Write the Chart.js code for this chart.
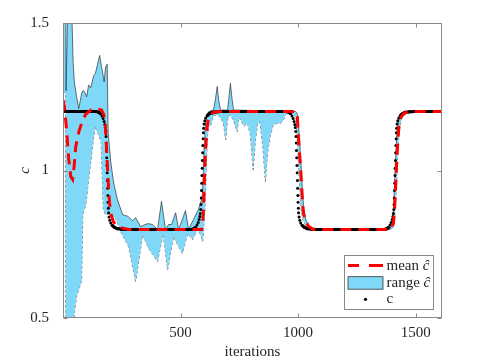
<!DOCTYPE html>
<html><head><meta charset="utf-8">
<script src="https://cdn.jsdelivr.net/npm/chart.js@4/dist/chart.umd.min.js"></script>
<style>html,body{margin:0;padding:0;background:#fff;}canvas{display:block}</style>
</head><body>
<canvas id="chart" width="479" height="361"></canvas>
<script>
// ---- data ----
const cIter = [0,143,153,160,166,171,175,178,180,182,183,184,185,186,187,188,189,190,191,192,193,194,196,199,203,209,218,230,248,268,
  547,557,564,570,575,579,582,584,586,587,588,589,590,591,592,593,594,595,596,597,598,600,603,607,613,622,634,652,672,
  951,961,968,974,979,983,986,988,990,991,992,993,994,995,996,997,998,999,1000,1001,1002,1004,1007,1011,1017,1026,1038,1056,1076,
  1368,1378,1385,1391,1396,1400,1403,1405,1407,1408,1409,1410,1411,1412,1413,1414,1415,1416,1417,1418,1419,1421,1424,1428,1434,1443,1455,1473,1493,1612];
const cVal = [1.2,1.2,1.197,1.192,1.185,1.176,1.166,1.156,1.146,1.132,1.115,1.093,1.068,1.043,1.017,0.992,0.966,0.940,0.915,0.892,0.872,0.857,0.842,0.831,0.822,0.814,0.808,0.803,0.801,0.800,
  0.800,0.803,0.808,0.815,0.824,0.834,0.844,0.854,0.868,0.885,0.907,0.932,0.957,0.983,1.008,1.034,1.060,1.085,1.108,1.128,1.143,1.158,1.169,1.178,1.186,1.192,1.197,1.199,1.200,
  1.200,1.197,1.192,1.185,1.176,1.166,1.156,1.146,1.132,1.115,1.093,1.068,1.043,1.017,0.992,0.966,0.940,0.915,0.892,0.872,0.857,0.842,0.831,0.822,0.814,0.808,0.803,0.801,0.800,
  0.800,0.803,0.808,0.815,0.824,0.834,0.844,0.854,0.868,0.885,0.907,0.932,0.957,0.983,1.008,1.034,1.060,1.085,1.108,1.128,1.143,1.158,1.169,1.178,1.186,1.192,1.197,1.199,1.200,1.200];

const meanIter = [0,7,16,24,33,41,48,54,67,79,96,118,143,164,173,177,181,186,190,194,198,205,215,237,279,585,590,594,597,600,
  603,607,611,616,624,640,660,990,996,1001,1006,1012,1017,1022,1030,1045,1065,1395,1405,1410,1414,1418,1422,1426,1430,1437,1450,1480,1612];
const meanVal = [1.24,1.21,1.13,1.04,0.98,0.97,1.02,1.08,1.13,1.16,1.19,1.205,1.21,1.205,1.19,1.18,1.14,1.06,1.00,0.94,0.89,0.85,0.825,0.808,0.80,0.80,0.80,0.82,0.86,0.93,
  1.00,1.08,1.13,1.165,1.185,1.197,1.20,1.20,1.19,1.12,1.06,0.99,0.92,0.86,0.83,0.81,0.80,0.80,0.82,0.86,0.93,1.00,1.07,1.12,1.16,1.18,1.195,1.20,1.20];

const bandUpIter = [0,12,13,20,37,43,48,58,67,79,84,88,96,101,109,118,130,138,147,156,162,169,175,181,188,192,203,215,232,254,
  275,296,309,330,360,381,402,419,436,449,462,479,492,521,534,555,576,589,593,597,600,603,607,612,620,640,648,656,662,670,
  700,706,712,718,725,985,990,998,1003,1008,1014,1019,1024,1032,1048,1070,1390,1400,1405,1409,1413,1417,1421,1426,1435,1450,1612];
const bandUpVal = [1.55,1.55,1.27,1.55,1.55,1.37,1.30,1.25,1.21,1.26,1.27,1.27,1.26,1.25,1.29,1.28,1.32,1.33,1.36,1.39,1.36,1.33,1.30,1.35,1.36,1.13,1.03,0.96,0.90,0.85,
  0.845,0.83,0.84,0.81,0.82,0.817,0.80,0.895,0.80,0.817,0.817,0.857,0.80,0.864,0.80,0.834,0.868,0.90,0.92,1.00,1.08,1.13,1.17,1.19,1.20,1.205,1.24,1.285,1.24,1.205,
  1.205,1.25,1.295,1.25,1.205,1.20,1.20,1.19,1.14,1.08,1.00,0.92,0.87,0.835,0.81,0.80,0.80,0.82,0.86,0.93,1.01,1.08,1.13,1.17,1.19,1.20,1.20];

const bandLoIter = [0,11,12,45,48,58,67,79,84,88,96,101,109,118,130,138,147,156,162,166,171,175,181,203,224,245,279,309,339,364,
  402,426,445,470,508,530,551,572,585,594,598,603,607,611,615,620,627,640,655,670,682,692,700,712,725,741,748,758,770,785,
  797,809,818,828,838,850,861,870,882,895,910,925,937,946,960,975,985,993,998,1003,1008,1014,1022,1035,1055,1395,1405,1410,1415,1419,
  1423,1428,1433,1440,1455,1475,1612];
const bandLoVal = [1.27,1.26,0.40,0.40,0.515,0.573,0.597,0.624,0.844,0.86,0.88,0.91,0.97,1.03,1.11,1.15,1.13,1.11,1.10,1.00,0.88,0.86,0.85,0.854,0.837,0.793,0.742,0.624,0.783,0.736,
  0.692,0.786,0.664,0.776,0.719,0.786,0.766,0.80,0.783,0.76,0.80,0.86,0.95,1.05,1.12,1.155,1.15,1.185,1.19,1.18,1.16,1.105,1.175,1.19,1.17,1.132,1.18,1.17,1.15,1.16,
  1.12,1.003,1.10,1.16,1.165,1.08,0.963,1.06,1.12,1.156,1.16,1.16,1.17,1.19,1.195,1.19,1.19,1.17,1.09,1.00,0.92,0.86,0.83,0.81,0.80,0.80,0.81,0.84,0.90,0.97,
  1.04,1.11,1.15,1.175,1.19,1.20,1.20];

const xTickValues = [500,1000,1500];
const xTickLabels = ['500','1000','1500'];
const yTickValues = [0.5,1,1.5];
const yTickLabels = ['0.5','1','1.5'];
const legendLabels = ['mean','range','c'];
const hatSymbol = 'ĉ';
const xTitle = 'iterations';
const yTitle = 'c';

// ---- styling ----
const SERIF = "'Liberation Serif','Times New Roman',serif";
const AX = '#8a8a8a', TXT = '#262626', BLUE = 'rgb(128,216,248)', RED = '#ff0000', EDGE = 'rgba(40,44,50,0.9)';
const pts = (xs, ys) => xs.map((x, i) => ({x: x, y: ys[i]}));

const framePlugin = {
  id: 'frame',
  afterDatasetsDraw(chart) {
    const {ctx, chartArea: a, scales: {x, y}} = chart;
    const L = Math.round(a.left) + 0.5, R = Math.round(a.right) - 0.5, T = Math.round(a.top) + 0.5, B = Math.round(a.bottom) - 0.5;
    ctx.save();
    ctx.strokeStyle = AX; ctx.lineWidth = 1;
    ctx.strokeRect(L, T, R - L, B - T);
    ctx.beginPath();
    xTickValues.forEach(v => { const p = Math.round(x.getPixelForValue(v)) + 0.5; ctx.moveTo(p, B); ctx.lineTo(p, B - 4); ctx.moveTo(p, T); ctx.lineTo(p, T + 4); });
    yTickValues.forEach(v => { const p = Math.round(y.getPixelForValue(v)) + 0.5; ctx.moveTo(L, p); ctx.lineTo(L + 4, p); ctx.moveTo(R, p); ctx.lineTo(R - 4, p); });
    ctx.stroke();
    ctx.restore();
  }
};

const legendPlugin = {
  id: 'innerLegend',
  afterDraw(chart) {
    const {ctx, chartArea: a} = chart;
    const w = 89, h = 54;
    const bx = Math.round(a.right) - 8.5 - w, by = Math.round(a.bottom) - 8.5 - h;
    ctx.save();
    ctx.fillStyle = '#fff'; ctx.fillRect(bx, by, w, h);
    ctx.strokeStyle = AX; ctx.lineWidth = 1; ctx.strokeRect(bx, by, w, h);
    const sx = bx + 3.5, ex = bx + 38.5, tx = bx + 42;
    const rows = [by + 10, by + 27.2, by + 43.8];
    // mean
    ctx.strokeStyle = RED; ctx.lineWidth = 3; ctx.setLineDash([11, 10, 14, 0]);
    ctx.beginPath(); ctx.moveTo(sx, rows[0]); ctx.lineTo(ex, rows[0]); ctx.stroke();
    ctx.setLineDash([]);
    // range
    ctx.fillStyle = BLUE; ctx.fillRect(sx, rows[1] - 6, ex - sx, 12.5);
    ctx.strokeStyle = '#333'; ctx.lineWidth = 0.8; ctx.strokeRect(sx, rows[1] - 6, ex - sx, 12.5);
    // c
    ctx.fillStyle = '#000'; ctx.beginPath(); ctx.arc((sx + ex) / 2, rows[2], 1.6, 0, Math.PI * 2); ctx.fill();
    // texts
    ctx.fillStyle = TXT; ctx.textBaseline = 'alphabetic'; ctx.textAlign = 'left';
    const base = [rows[0] + 4, rows[1] + 3.8, rows[2] + 3.5];
    legendLabels.forEach((lab, i) => {
      ctx.font = '15px ' + SERIF;
      ctx.fillText(lab, tx, base[i]);
      if (i < 2) {
        const wd = ctx.measureText(lab + ' ').width;
        ctx.font = 'italic 15px ' + SERIF;
        ctx.fillText(hatSymbol, tx + wd, base[i]);
      }
    });
    ctx.restore();
  }
};

new Chart(document.getElementById('chart'), {
  type: 'line',
  data: {
    datasets: [
      { label: 'mean', data: pts(meanIter, meanVal), borderColor: RED, borderWidth: 3, borderDash: [11, 7],
        pointRadius: 0, fill: false, tension: 0 },
      { label: 'c', data: pts(cIter, cVal), borderColor: '#000', borderWidth: 3.2, pointRadius: 1.5,
        pointBackgroundColor: '#000', pointBorderWidth: 0, fill: false, tension: 0,
        segment: { borderColor: c => (Math.abs(c.p1.y - c.p0.y) > Math.abs(c.p1.x - c.p0.x) ? 'rgba(0,0,0,0)' : '#000') } },
      { label: 'range upper', data: pts(bandUpIter, bandUpVal), borderColor: EDGE, borderWidth: 0.75,
        backgroundColor: BLUE, fill: '+1', pointRadius: 0, tension: 0, clip: 0 },
      { label: 'range lower', data: pts(bandLoIter, bandLoVal), borderColor: EDGE, borderWidth: 0.75, borderDash: [3, 2],
        fill: false, pointRadius: 0, tension: 0, clip: 0 }
    ]
  },
  options: {
    responsive: false, animation: false, devicePixelRatio: 1,
    layout: { padding: { top: 23, right: 37, left: 0, bottom: 0 } },
    plugins: { legend: { display: false }, tooltip: { enabled: false } },
    scales: {
      x: {
        type: 'linear', min: 0, max: 1612, position: 'bottom',
        grid: { display: false }, border: { display: false },
        afterBuildTicks: s => { s.ticks = xTickValues.map(v => ({ value: v })); },
        afterFit: s => { s.height = 43; },
        ticks: { callback: v => xTickLabels[xTickValues.indexOf(v)], font: { family: SERIF, size: 15 }, color: TXT,
                 padding: -2, maxRotation: 0, autoSkip: false },
        title: { display: true, text: xTitle, font: { family: SERIF, size: 15 }, color: TXT, padding: { top: 0, bottom: 0 } }
      },
      y: {
        type: 'linear', min: 0.5, max: 1.5,
        grid: { display: false }, border: { display: false },
        afterBuildTicks: s => { s.ticks = yTickValues.map(v => ({ value: v })); },
        afterFit: s => { s.width = 63; },
        ticks: { callback: v => yTickLabels[yTickValues.indexOf(v)], font: { family: SERIF, size: 15 }, color: TXT,
                 padding: 6, autoSkip: false },
        title: { display: true, text: yTitle, font: { family: SERIF, size: 15, style: 'italic' }, color: TXT, padding: { top: 16, bottom: 0 } }
      }
    }
  },
  plugins: [framePlugin, legendPlugin]
});
</script>
</body></html>
